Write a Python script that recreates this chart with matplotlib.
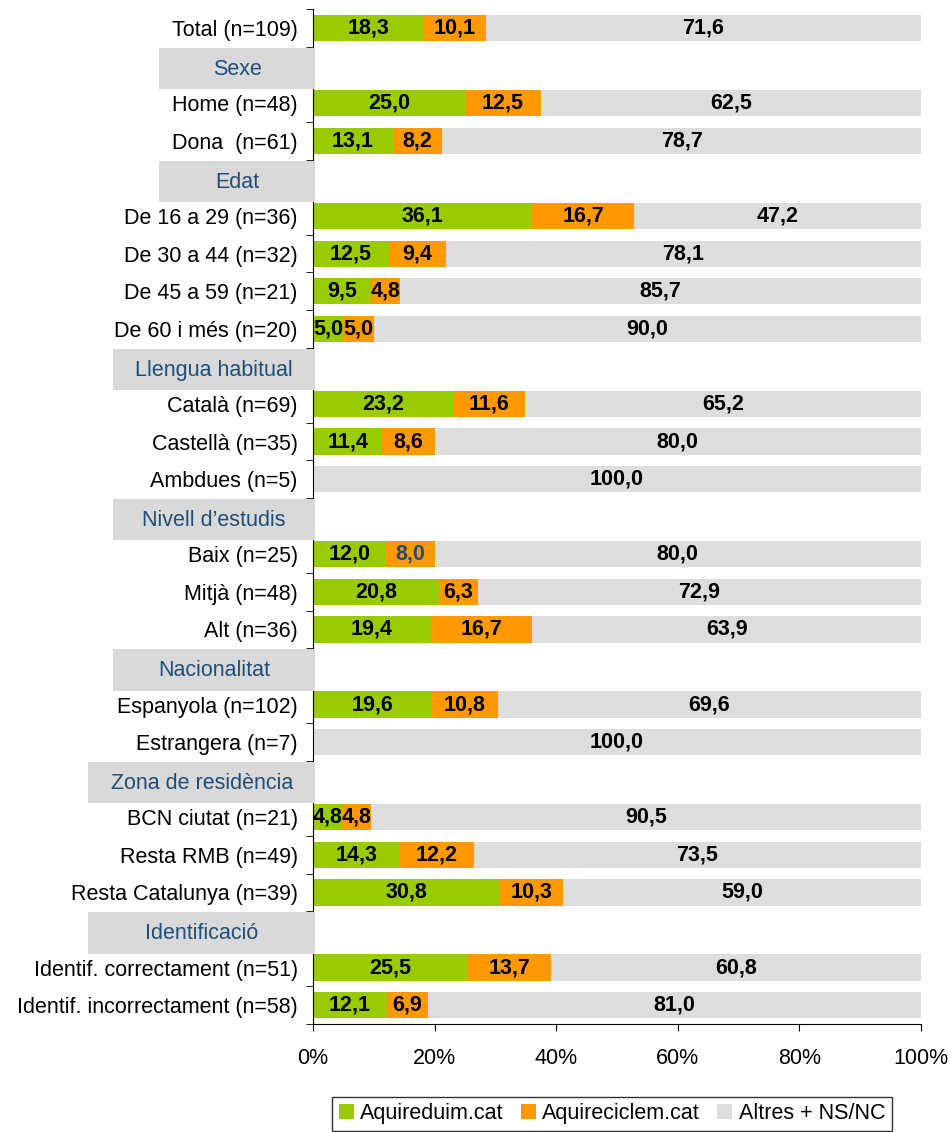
import numpy as np
import matplotlib.pyplot as plt
import matplotlib.transforms as mtransforms
from matplotlib.patches import Rectangle, Patch

plt.rcParams['font.family'] = ['Liberation Sans', 'DejaVu Sans']

# rows top to bottom; header rows are the group titles
rows = ["Total (n=109)", "Sexe", "Home (n=48)", "Dona  (n=61)", "Edat",
        "De 16 a 29 (n=36)", "De 30 a 44 (n=32)", "De 45 a 59 (n=21)", "De 60 i més (n=20)",
        "Llengua habitual", "Català (n=69)", "Castellà (n=35)", "Ambdues (n=5)",
        "Nivell d’estudis", "Baix (n=25)", "Mitjà (n=48)", "Alt (n=36)",
        "Nacionalitat", "Espanyola (n=102)", "Estrangera (n=7)",
        "Zona de residència", "BCN ciutat (n=21)", "Resta RMB (n=49)", "Resta Catalunya (n=39)",
        "Identificació", "Identif. correctament (n=51)", "Identif. incorrectament (n=58)"]
headers = ["Sexe", "Edat", "Llengua habitual", "Nivell d’estudis", "Nacionalitat",
           "Zona de residència", "Identificació"]

# values for the data rows only, in order
aquireduim = [18.3, 25.0, 13.1, 36.1, 12.5, 9.5, 5.0, 23.2, 11.4, 0.0, 12.0, 20.8, 19.4,
              19.6, 0.0, 4.8, 14.3, 30.8, 25.5, 12.1]
aquireciclem = [10.1, 12.5, 8.2, 16.7, 9.4, 4.8, 5.0, 11.6, 8.6, 0.0, 8.0, 6.3, 16.7,
                10.8, 0.0, 4.8, 12.2, 10.3, 13.7, 6.9]
altres = [71.6, 62.5, 78.7, 47.2, 78.1, 85.7, 90.0, 65.2, 80.0, 100.0, 80.0, 72.9, 63.9,
          69.6, 100.0, 90.5, 73.5, 59.0, 60.8, 81.0]

series = ["Aquireduim.cat", "Aquireciclem.cat", "Altres + NS/NC"]
colors = ["#99CC00", "#FF9900", "#DDDDDD"]
blue = "#1F4E79"
box_left = {"Sexe": -0.253, "Edat": -0.253, "Llengua habitual": -0.329,
            "Nivell d’estudis": -0.329, "Nacionalitat": -0.329,
            "Zona de residència": -0.370, "Identificació": -0.370}
fs = 15.5

fig = plt.figure(figsize=(9.51, 11.32), dpi=100)
ax = fig.add_axes([0.3291, 0.0954, 0.6393, 0.8963])

n = len(rows)
ypos = np.arange(n)
data_y = np.array([y for y, r in zip(ypos, rows) if r not in headers])

vals = [np.array(aquireduim), np.array(aquireciclem), np.array(altres)]
left = np.zeros(len(data_y))
for k in range(3):
    ax.barh(data_y, vals[k], left=left, height=0.7, color=colors[k], label=series[k], zorder=2)
    for y, l, v in zip(data_y, left, vals[k]):
        if v > 0:
            c = "black"
            if k == 1 and rows[y] == "Baix (n=25)":
                c = blue
            ax.text(l + v / 2, y, f"{v:.1f}".replace(".", ","), ha="center", va="center",
                    fontsize=fs, fontweight="bold", color=c, zorder=3)
    left = left + vals[k]

ax.set_ylim(n - 0.5, -0.5)
ax.set_xlim(0, 100)
ax.set_yticks(ypos)
ax.set_yticklabels([r if r not in headers else "" for r in rows], fontsize=fs)
ax.set_yticks(np.arange(-0.5, n, 1), minor=True)
ax.tick_params(axis="y", which="major", length=0, pad=11)
ax.tick_params(axis="y", which="minor", length=5, direction="out")
ax.set_xticks(np.arange(0, 101, 20))
ax.set_xticklabels([f"{t}%" for t in range(0, 101, 20)], fontsize=fs)
ax.tick_params(axis="x", length=5, pad=12)
ax.spines["top"].set_visible(False)
ax.spines["right"].set_visible(False)

# group header boxes over the label column
trans = mtransforms.blended_transform_factory(ax.transAxes, ax.transData)
for y, r in zip(ypos, rows):
    if r in headers:
        x0 = box_left[r]
        ax.add_patch(Rectangle((x0, y - 0.47), 0.004 - x0, 1.1, transform=trans,
                               facecolor="#D9D9D9", edgecolor="none", clip_on=False, zorder=5))
        ax.text((x0 + 0.004) / 2, y + 0.1, r, transform=trans, ha="center", va="center",
                fontsize=fs, color=blue, zorder=6, clip_on=False)

handles = [Patch(facecolor=c) for c in colors]
leg = fig.legend(handles, series, loc="upper center", bbox_to_anchor=(0.6435, 0.031),
                 ncol=3, fontsize=fs, frameon=True, fancybox=False, handlelength=0.7,
                 handleheight=0.7, handletextpad=0.3, columnspacing=0.8,
                 borderpad=0.3, borderaxespad=0)
leg.get_frame().set_edgecolor("black")
leg.get_frame().set_linewidth(1)

fig.savefig("out.png", dpi=100)
